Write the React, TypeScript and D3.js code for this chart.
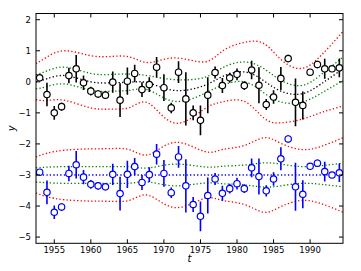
import React from 'react';
import * as d3 from 'd3';

// yearly measurements (black) and the detrended copy shifted down by 3 (blue)
const years = [
  1953, 1954, 1955, 1956, 1957, 1958, 1959, 1960, 1961, 1962, 1963, 1964, 1965, 1966,
  1967, 1968, 1969, 1970, 1971, 1972, 1973, 1974, 1975, 1976, 1977, 1978, 1979, 1980,
  1981, 1982, 1983, 1984, 1985, 1986, 1987, 1988, 1989, 1990, 1991, 1992, 1993, 1994,
];
const obs = [
  0.13, -0.41, -1.0, -0.8, 0.2, 0.42, -0.03, -0.3, -0.39, -0.43, -0.01, -0.59, 0.02, 0.27,
  -0.25, -0.09, 0.47, -0.19, -0.84, 0.31, -0.55, -1.0, -1.24, -0.43, 0.3, -0.12, 0.13, 0.24,
  -0.12, 0.38, -0.11, -0.73, -0.49, 0.11, 0.75, -0.66, -0.76, 0.31, 0.56, 0.42, 0.42, 0.45,
];
const resid = [
  -2.91, -3.56, -4.2, -4.03, -2.95, -2.67, -3.07, -3.3, -3.35, -3.38, -2.98, -3.6, -2.98, -2.73,
  -3.24, -2.99, -2.33, -2.95, -3.57, -2.42, -3.35, -3.95, -4.33, -3.66, -3.13, -3.59, -3.44, -3.28,
  -3.44, -2.77, -3.05, -3.51, -3.13, -2.48, -1.84, -3.38, -3.62, -2.72, -2.62, -2.89, -3.0, -2.93,
];
const err = [
  0.1, 0.38, 0.22, 0.13, 0.25, 0.44, 0.23, 0.14, 0.12, 0.12, 0.34, 0.54, 0.44, 0.28,
  0.24, 0.24, 0.33, 0.43, 0.17, 0.35, 0.86, 0.24, 0.48, 0.58, 0.19, 0.24, 0.16, 0.19,
  0.14, 0.3, 0.58, 0.18, 0.22, 0.37, 0.12, 0.77, 0.45, 0.1, 0.12, 0.32, 0.05, 0.3,
];

// smooth fit: mean and band half-widths read at a few years
const knotYears = [1952.5, 1954, 1956.5, 1960, 1963, 1965.5, 1968, 1971.5, 1975.5, 1978, 1981, 1983.7, 1986, 1988.8, 1991.5, 1994.5];
const fitMean = [0.0, 0.1, 0.2, 0.0, -0.03, -0.01, -0.04, -0.28, -0.12, 0.17, 0.32, 0.03, -0.3, -0.39, -0.07, 0.42];
const innerWidth = [0.23, 0.25, 0.27, 0.27, 0.27, 0.26, 0.23, 0.35, 0.26, 0.28, 0.32, 0.39, 0.35, 0.27, 0.3, 0.38];
const outerWidth = [0.58, 0.7, 0.8, 0.84, 0.85, 0.8, 0.66, 1.05, 0.76, 0.82, 0.95, 1.2, 1.02, 0.82, 0.92, 1.2];
const residLevel = -3;

const xTicks = [1955, 1960, 1965, 1970, 1975, 1980, 1985, 1990];
const yTicks = [-5, -4, -3, -2, -1, 0, 1, 2];

const W = 361;
const H = 271;
const left = 36;
const right = 343;
const top = 13.5;
const bottom = 243.3;
const font = '"DejaVu Sans", sans-serif';

export default function App() {
  const x = d3.scaleLinear().domain([1952.5, 1994.5]).range([left, right]);
  const y = d3.scaleLinear().domain([-5.2, 2.2]).range([bottom, top]);

  const curve = (fn: (i: number) => number) =>
    d3.line<number>()
      .curve(d3.curveNatural)
      .x((d) => x(d))
      .y((_, i) => y(fn(i)))(knotYears) || '';

  const lines = [
    { d: curve((i) => fitMean[i] + outerWidth[i]), c: '#ff0000' },
    { d: curve((i) => fitMean[i] - outerWidth[i]), c: '#ff0000' },
    { d: curve((i) => fitMean[i] + innerWidth[i]), c: '#008000' },
    { d: curve((i) => fitMean[i] - innerWidth[i]), c: '#008000' },
    { d: curve((i) => fitMean[i]), c: '#000000' },
    { d: curve((i) => residLevel + outerWidth[i]), c: '#ff0000' },
    { d: curve((i) => residLevel - outerWidth[i]), c: '#ff0000' },
    { d: curve((i) => residLevel + innerWidth[i]), c: '#008000' },
    { d: curve((i) => residLevel - innerWidth[i]), c: '#008000' },
    { d: curve(() => residLevel), c: '#0000ff' },
  ];

  const series = [
    { vals: obs, c: '#000000' },
    { vals: resid, c: '#0000ff' },
  ];

  return (
    <svg width={W} height={H} style={{ position: 'absolute', left: 0, top: 0, background: '#fff' }}>
      <defs>
        <clipPath id="plot">
          <rect x={left} y={top} width={right - left} height={bottom - top} />
        </clipPath>
      </defs>
      <g clipPath="url(#plot)">
        {lines.map((l, i) => (
          <path key={i} d={l.d} fill="none" stroke={l.c} strokeWidth={1.3} strokeDasharray="1.3 2.2" />
        ))}
        {series.map((s, si) => (
          <g key={si}>
            {years.map((yr, i) => (
              <line key={'e' + i} x1={x(yr)} x2={x(yr)} y1={y(s.vals[i] - err[i])} y2={y(s.vals[i] + err[i])}
                stroke={s.c} strokeWidth={1.6} />
            ))}
            {years.map((yr, i) => (
              <circle key={'p' + i} cx={x(yr)} cy={y(s.vals[i])} r={3.2} fill="#fff" stroke={s.c} strokeWidth={1.2} />
            ))}
          </g>
        ))}
      </g>
      <rect x={left} y={top} width={right - left} height={bottom - top} fill="none" stroke="#000" strokeWidth={1} />
      {xTicks.map((t) => (
        <g key={t}>
          <line x1={x(t)} x2={x(t)} y1={bottom} y2={bottom - 4} stroke="#000" />
          <line x1={x(t)} x2={x(t)} y1={top} y2={top + 4} stroke="#000" />
          <text x={x(t)} y={bottom + 10} textAnchor="middle" fontFamily={font} fontSize={8.5}>{t}</text>
        </g>
      ))}
      {yTicks.map((t) => (
        <g key={t}>
          <line x1={left} x2={left + 4} y1={y(t)} y2={y(t)} stroke="#000" />
          <line x1={right} x2={right - 4} y1={y(t)} y2={y(t)} stroke="#000" />
          <text x={left - 5} y={y(t) + 3} textAnchor="end" fontFamily={font} fontSize={8.5}>
            {t < 0 ? '\u2212' + Math.abs(t) : t}
          </text>
        </g>
      ))}
      <text x={(left + right) / 2} y={262} textAnchor="middle" fontFamily={font} fontSize={10} fontStyle="italic">t</text>
      <text transform={`translate(15,${(top + bottom) / 2}) rotate(-90)`} textAnchor="middle" fontFamily={font}
        fontSize={10} fontStyle="italic">y</text>
    </svg>
  );
}
